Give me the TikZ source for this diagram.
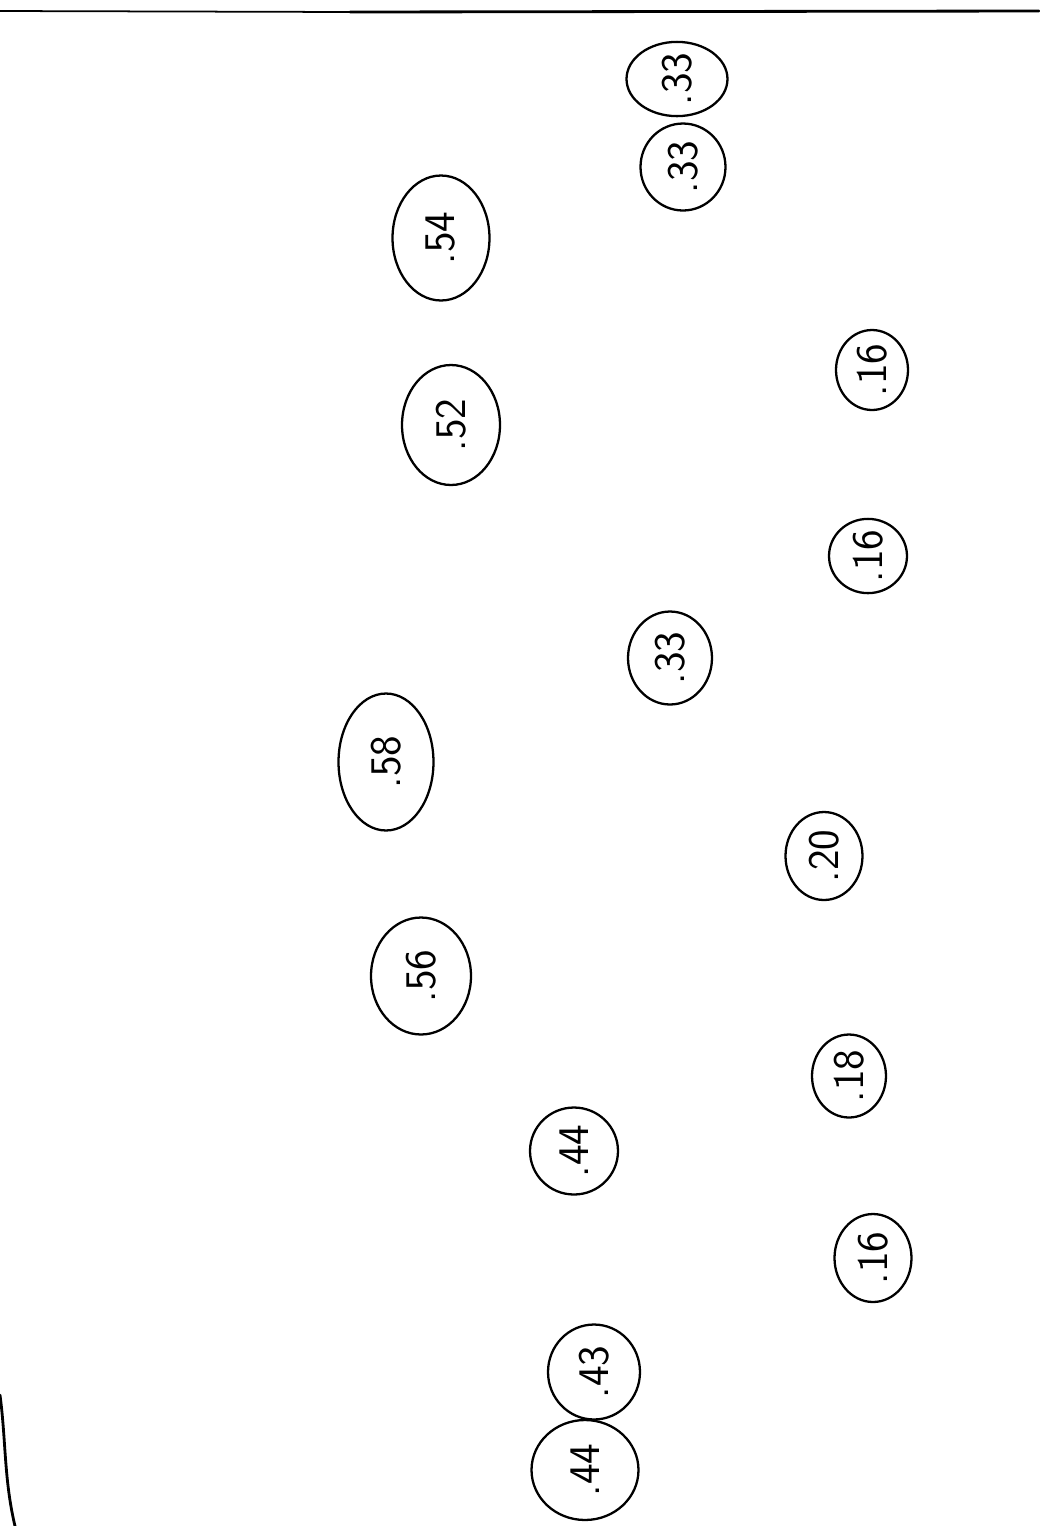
\documentclass[tikz,border=0pt]{standalone}
\usetikzlibrary{shapes.geometric}

\begin{document}
\begin{tikzpicture}[
  x=0.02cm, y=-0.02cm,
  every node/.style={font=\sffamily\Huge},
  blob/.style={draw, ellipse, line width=1.3pt, inner sep=0pt, rotate=90},
  edge/.style={line width=1.3pt, line cap=round}
]
\useasboundingbox (0,0) rectangle (1039,1526);

% ── Page edges ──
\coordinate (tl) at (0,11);
\coordinate (tm) at (350,12);
\coordinate (tr) at (1039,11);
\draw[edge, line width=1pt] (tl) -- (tm);
\draw[edge, line width=1.6pt] (tm) -- (tr);
\draw[edge, line width=1.6pt] (0,1395) .. controls (6,1440) and (4,1480) .. (15,1526);

% ── Top pair ──
\node[blob, minimum width=1.44cm, minimum height=2.02cm] (n33a) at (677,79) {.33};
\node[blob, minimum width=1.74cm, minimum height=1.70cm] (n33b) at (683,167) {.33};

% ── Left column ──
\node[blob, minimum width=2.50cm, minimum height=1.94cm] (n54) at (441,238) {.54};
\node[blob, minimum width=2.40cm, minimum height=1.96cm] (n52) at (451,425) {.52};
\node[blob, minimum width=2.74cm, minimum height=1.90cm] (n58) at (386,762) {.58};
\node[blob, minimum width=2.34cm, minimum height=2.00cm] (n56) at (421,976) {.56};

% ── Middle column ──
\node[blob, minimum width=1.86cm, minimum height=1.68cm] (n33c) at (670,658) {.33};
\node[blob, minimum width=1.74cm, minimum height=1.76cm] (n44a) at (574,1151) {.44};
\node[blob, minimum width=1.90cm, minimum height=1.84cm] (n43) at (594,1372) {.43};
\node[blob, minimum width=2.00cm, minimum height=2.14cm] (n44b) at (585,1470) {.44};

% ── Right column ──
\node[blob, minimum width=1.60cm, minimum height=1.44cm] (n16a) at (872,370) {.16};
\node[blob, minimum width=1.44cm, minimum height=1.56cm] (n16b) at (868,556) {.16};
\node[blob, minimum width=1.76cm, minimum height=1.54cm] (n20) at (824,856) {.20};
\node[blob, minimum width=1.66cm, minimum height=1.48cm] (n18) at (849,1076) {.18};
\node[blob, minimum width=1.76cm, minimum height=1.54cm] (n16c) at (873,1258) {.16};

\end{tikzpicture}
\end{document}
